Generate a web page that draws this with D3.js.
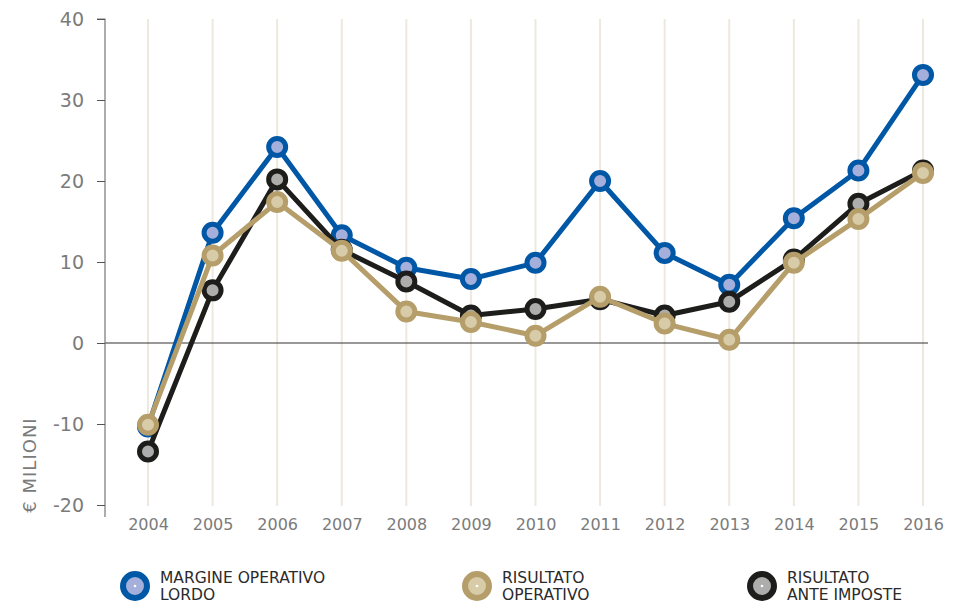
<!DOCTYPE html>
<html>
<head>
<meta charset="utf-8">
<script src="https://cdn.jsdelivr.net/npm/d3@7"></script>
<style>
  body { margin: 0; background: #fff; }
  svg { display: block; font-family: 'DejaVu Sans', sans-serif; }
</style>
</head>
<body>
<svg width="957" height="606"></svg>
<script>
const years = [2004, 2005, 2006, 2007, 2008, 2009, 2010, 2011, 2012, 2013, 2014, 2015, 2016]
const margineOperativoLordo = [-10.3, 13.6, 24.2, 13.3, 9.3, 7.9, 9.9, 20.0, 11.1, 7.2, 15.4, 21.3, 33.1]
const risultatoAnteImposte = [-13.4, 6.5, 20.2, 11.5, 7.6, 3.4, 4.2, 5.4, 3.4, 5.1, 10.3, 17.2, 21.3]
const risultatoOperativo = [-10.1, 10.8, 17.4, 11.4, 3.9, 2.6, 0.9, 5.7, 2.4, 0.4, 9.9, 15.3, 21.0]
const yTicks = [-20, -10, 0, 10, 20, 30, 40]

// drawing order: blue, black, beige on top
const series = [
  { name: ['MARGINE OPERATIVO', 'LORDO'], values: margineOperativoLordo, stroke: '#0057a6', fill: '#a4afdc', legendX: 135 },
  { name: ['RISULTATO', 'ANTE IMPOSTE'], values: risultatoAnteImposte, stroke: '#1d1d1b', fill: '#adadad', legendX: 762 },
  { name: ['RISULTATO', 'OPERATIVO'], values: risultatoOperativo, stroke: '#b59e6a', fill: '#d8cba8', legendX: 477 }
]

const svg = d3.select('svg')

const x = d3.scalePoint().domain(years).range([148, 923])
const y = d3.scaleLinear().domain([-20, 40]).range([505, 19])

// vertical gridlines
svg.append('g')
  .selectAll('line')
  .data(years)
  .enter().append('line')
    .attr('x1', d => x(d)).attr('x2', d => x(d))
    .attr('y1', y(40)).attr('y2', 506)
    .attr('stroke', '#eee9de')
    .attr('stroke-width', 2)

// zero line
svg.append('line')
  .attr('x1', 105).attr('x2', 928)
  .attr('y1', y(0)).attr('y2', y(0))
  .attr('stroke', '#333')
  .attr('stroke-width', 1)

// y axis
const yAxis = svg.append('g')
  .attr('transform', 'translate(105,0)')
  .call(d3.axisLeft(y).tickValues(yTicks).tickSize(8).tickPadding(13).tickFormat(d => String(d)))
yAxis.select('.domain').attr('stroke', '#777').attr('stroke-width', 1.2).attr('d', 'M-8,' + y(40) + 'H0V517')
yAxis.selectAll('.tick line').attr('stroke', '#555')
yAxis.selectAll('.tick text')
  .style('fill', '#7b7b7b')
  .attr('font-size', 19)
  .attr('font-family', "'DejaVu Sans', sans-serif")

// x labels
const xAxis = svg.append('g')
  .attr('transform', 'translate(0,512)')
  .call(d3.axisBottom(x).tickSize(0).tickPadding(7))
xAxis.select('.domain').remove()
xAxis.selectAll('.tick text')
  .style('fill', '#7b7b7b')
  .attr('font-size', 16)
  .attr('font-family', "'DejaVu Sans', sans-serif")

// y axis title
svg.append('text')
  .attr('transform', 'translate(36,465) rotate(-90)')
  .attr('text-anchor', 'middle')
  .attr('fill', '#7b7b7b')
  .attr('font-size', 18)
  .attr('letter-spacing', 1)
  .text('€ MILIONI')

const line = d3.line()
  .x((d, i) => x(years[i]))
  .y(d => y(d))

series.forEach(s => {
  const g = svg.append('g')
  g.append('path')
    .datum(s.values)
    .attr('d', line)
    .attr('fill', 'none')
    .attr('stroke', s.stroke)
    .attr('stroke-width', 5)
    .attr('stroke-linejoin', 'round')

  g.selectAll('circle')
    .data(s.values)
    .enter().append('circle')
      .attr('cx', (d, i) => x(years[i]))
      .attr('cy', d => y(d))
      .attr('r', 8.5)
      .attr('fill', s.fill)
      .attr('stroke', s.stroke)
      .attr('stroke-width', 5)

  // legend
  const lg = svg.append('g').attr('transform', 'translate(' + s.legendX + ',586)')
  lg.append('circle').attr('r', 12).attr('fill', s.fill).attr('stroke', s.stroke).attr('stroke-width', 6)
  lg.append('circle').attr('r', 1.3).attr('fill', '#fff')
  lg.selectAll('text')
    .data(s.name)
    .enter().append('text')
      .attr('x', 25)
      .attr('y', (d, i) => -3 + i * 17)
      .attr('fill', '#2b2b2b')
      .attr('font-size', 15.5)
      .text(d => d)
})
</script>
</body>
</html>
